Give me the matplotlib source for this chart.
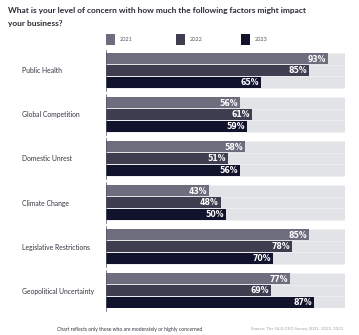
import numpy as np
import matplotlib.pyplot as plt
from matplotlib.patches import Rectangle

# survey results, share of respondents (%)
factors = ["Public Health", "Global Competition", "Domestic Unrest",
           "Climate Change", "Legislative Restrictions", "Geopolitical Uncertainty"]
years = ["2021", "2022", "2023"]
v2021 = [93, 56, 58, 43, 85, 77]
v2022 = [85, 61, 51, 48, 78, 69]
v2023 = [65, 59, 56, 50, 70, 87]

colors = ["#6d6d7d", "#3e3e50", "#11132d"]
bg = "#e1e3e7"
W, H = 359, 335

fig = plt.figure(figsize=(W / 100, H / 100), dpi=100)
fig.patch.set_facecolor("white")

# bar area in pixels: x 106..345, y 53..308
ax = fig.add_axes([106 / W, 1 - 308 / H, (345 - 106) / W, (308 - 53) / H])
ax.set_xlim(0, 100)
ax.set_ylim(5.3975, -0.3975)
ax.axis("off")

bar_h = 0.265
offsets = [-bar_h, 0, bar_h]
y = np.arange(len(factors))
for k, vals in enumerate([v2021, v2022, v2023]):
    pos = y + offsets[k]
    ax.barh(pos, 100, height=bar_h, color=bg, edgecolor="#eef0f3", linewidth=0.4)
    ax.barh(pos, vals, height=bar_h * 0.96, color=colors[k], linewidth=0)
    for p, v in zip(pos, vals):
        ax.text(v - 0.8, p + 0.01, f"{v}%", ha="right", va="center", color="white",
                fontsize=5.6, fontweight="bold",
                family=["Liberation Sans Narrow", "DejaVu Sans"])

for i in y:
    ax.plot([0, 0], [i - 0.47, i + 0.47], color="#55555f", lw=0.5, clip_on=False)
    fig.text(22 / W, 1 - (70.5 + 44.2 * i) / H, factors[i], ha="left", va="center",
             fontsize=4.9, color="#333340", family="Lato")

fig.text(8 / W, 1 - 17 / H,
         "What is your level of concern with how much the following factors might impact\nyour business?",
         ha="left", va="center", fontsize=6.0, fontweight="bold", color="#2b2b35",
         family="Lato", linespacing=2.0)

# legend
for k, (yr, xs) in enumerate(zip(years, [106, 176, 241])):
    fig.add_artist(Rectangle((xs / W, 1 - 45 / H), 9 / W, 11 / H,
                             transform=fig.transFigure, color=colors[k], lw=0))
    fig.text((xs + 14) / W, 1 - 39.5 / H, yr, ha="left", va="center",
             fontsize=4.0, color="#555560", family="Lato")

fig.text(130 / W, 1 - 329 / H, "Chart reflects only those who are moderately or highly concerned",
         ha="center", va="center", fontsize=3.6, color="#333340", family="Lato")
fig.text(343 / W, 1 - 329 / H, "Source: The GLG CEO Survey 2021, 2022, 2023",
         ha="right", va="center", fontsize=3.2, color="#a0a0a8", family="Lato")

fig.savefig("out.png", dpi=100)
